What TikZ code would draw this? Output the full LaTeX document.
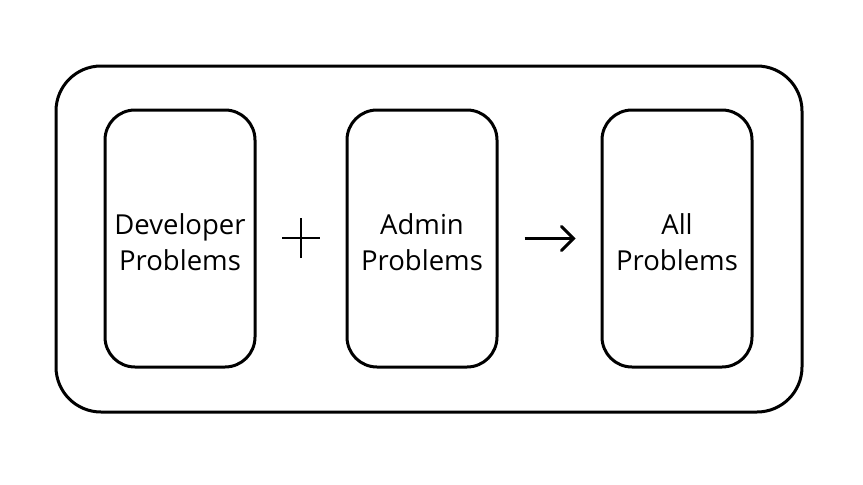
\documentclass[tikz,border=0pt]{standalone}
\usepackage{fontspec}
\setmainfont{Open Sans}
\usetikzlibrary{arrows.meta}

\tikzset{
  probbox/.style={draw, line width=3pt, rounded corners=30pt, minimum width=150pt,
    minimum height=257pt},
  probtext/.style={align=center, font=\fontsize{27.5}{36}\selectfont, yshift=-4pt},
}

\begin{document}
\begin{tikzpicture}[x=1pt, y=-1pt]
\useasboundingbox (0,0) rectangle (863,485);
% frame round all boxes
\draw[line width=3pt, rounded corners=45pt] (56,66) rectangle (802,412);

% the three boxes
\node[probbox] (dev) at (180,238.5) {};
\node[probbox] (admin) at (422,238.5) {};
\node[probbox] (all) at (677,238.5) {};
\node[probtext] (devtext) at (dev) {Developer\\Problems};
\node[probtext] (admintext) at (admin) {Admin\\Problems};
\node[probtext] (alltext) at (all) {All\\Problems};

% plus sign
\coordinate (plus) at (301,238);
\draw[line width=2pt] ([xshift=-19pt]plus) -- ([xshift=19pt]plus);
\draw[line width=2pt] ([yshift=-20pt]plus) -- ([yshift=20pt]plus);

% arrow
\draw[line width=3pt, -{Straight Barb[length=12pt, width=24pt, line cap=round]},
  shorten <=26pt, shorten >=25pt] (admin.east) -- (all.west);
\end{tikzpicture}
\end{document}
